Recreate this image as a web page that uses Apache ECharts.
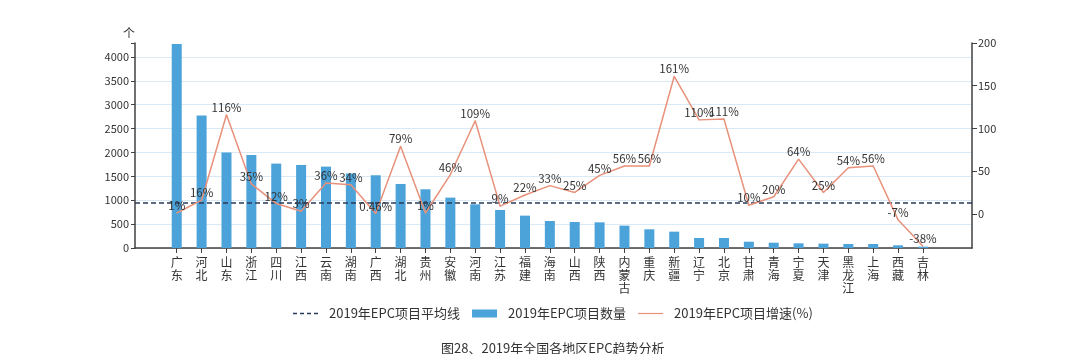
<!DOCTYPE html>
<html>
<head>
<meta charset="utf-8">
<script src="https://cdn.jsdelivr.net/npm/echarts@6/dist/echarts.min.js"></script>
<style>
html,body{margin:0;padding:0;background:#fff;}
#chart{width:1080px;height:354px;}
</style>
</head>
<body>
<div id="chart"></div>
<script>
const categories = ['广东','河北','山东','浙江','四川','江西','云南','湖南','广西','湖北','贵州','安徽','河南','江苏','福建','海南','山西','陕西','内蒙古','重庆','新疆','辽宁','北京','甘肃','青海','宁夏','天津','黑龙江','上海','西藏','吉林'];
const projectCounts = [4270,2771,1996,1948,1766,1738,1703,1560,1522,1340,1229,1054,914,796,677,565,544,537,468,391,342,209,209,132,111,98,91,84,84,56,28];
const growthRates = [1,16,116,35,12,3,36,34,0.46,79,1,46,109,9,22,33,25,45,56,56,161,110,111,10,20,64,25,54,56,-7,-38];
const leftTicks = [0,500,1000,1500,2000,2500,3000,3500,4000];
const rightTicks = [0,50,100,150,200];
const seriesNames = ['2019年EPC项目平均线','2019年EPC项目数量','2019年EPC项目增速(%)'];
const titleText = '图28、2019年全国各地区EPC趋势分析';

const avgValue = projectCounts.reduce((a,b)=>a+b,0)/projectCounts.length;

const FONT = '"Noto Sans CJK SC", "Noto Sans", sans-serif';
const TXT = '#333';
const AVG_COLOR = '#2a3b5c', BAR_COLOR = '#4ba3d9', LINE_COLOR = '#e8917a';
const LEFT_MIN = 0, LEFT_MAX = 4290, RIGHT_MIN = -40, RIGHT_MAX = 200;

const chart = echarts.init(document.getElementById('chart'), null, {renderer:'canvas'});
chart.setOption({
  animation:false,
  textStyle:{fontFamily:FONT},
  title:{text:titleText,left:436,top:337,textStyle:{fontSize:13,fontWeight:'normal',color:TXT,fontFamily:FONT}},
  legend:{
    top:302, left:288, itemGap:12, itemWidth:25, itemHeight:8,
    textStyle:{fontSize:13,color:TXT,fontFamily:FONT,padding:[0,0,0,6]},
    data:[
      {name:seriesNames[0],icon:'path://M0 0H4V1.6H0Z M7 0H11V1.6H7Z M14 0H18V1.6H14Z M21 0H25V1.6H21Z',itemStyle:{color:AVG_COLOR,opacity:1}},
      {name:seriesNames[1],icon:'rect'},
      {name:seriesNames[2],icon:'path://M0 0H25V1.2H0Z',itemStyle:{color:LINE_COLOR,opacity:1}}
    ]
  },
  grid:[
    {left:135,right:108,top:43,bottom:106},
    {left:164.3,right:144.6,top:43,bottom:106}
  ],
  xAxis:[
    {type:'value',gridIndex:0,min:0,max:1,axisLine:{show:true,lineStyle:{color:'#404040',width:1.5}},axisTick:{show:false},axisLabel:{show:false},splitLine:{show:false}},
    {type:'category',gridIndex:1,data:categories,boundaryGap:true,
     axisLine:{show:false},
     axisTick:{show:true,alignWithLabel:true,length:5,lineStyle:{color:'#404040'}},
     axisLabel:{interval:0,fontSize:12,lineHeight:13,color:TXT,margin:8,fontFamily:FONT,formatter:v=>v.split('').join('\n')}}
  ],
  yAxis:[
    {type:'value',gridIndex:0,position:'left',min:LEFT_MIN,max:LEFT_MAX,interval:500,
     name:'个',nameLocation:'end',nameGap:4,nameTextStyle:{fontSize:12,color:TXT,align:'right',fontFamily:FONT},
     axisLine:{show:true,lineStyle:{color:'#404040',width:1.5}},
     axisTick:{show:true,length:4,lineStyle:{color:'#404040'}},
     axisLabel:{fontSize:11,color:TXT,margin:6,fontFamily:FONT,customValues:leftTicks,formatter:v=>String(v)},
     splitLine:{show:true,showMaxLine:false,lineStyle:{color:'#d9e9f5',width:1}}},
    {type:'value',gridIndex:0,position:'right',min:RIGHT_MIN,max:RIGHT_MAX,
     axisLine:{show:true,lineStyle:{color:'#404040',width:1.5}},
     axisTick:{show:true,length:5,lineStyle:{color:'#404040'},customValues:rightTicks},
     axisLabel:{fontSize:11,color:TXT,margin:6,fontFamily:FONT,customValues:rightTicks,formatter:v=>String(v)},
     splitLine:{show:false}},
    {type:'value',gridIndex:1,min:LEFT_MIN,max:LEFT_MAX,show:false,splitLine:{show:false}},
    {type:'value',gridIndex:1,min:RIGHT_MIN,max:RIGHT_MAX,show:false,splitLine:{show:false}}
  ],
  series:[
    {name:seriesNames[0],type:'line',xAxisIndex:0,yAxisIndex:0,symbol:'none',
     data:[[0,avgValue],[1,avgValue]],
     lineStyle:{type:[5,3],color:AVG_COLOR,width:1.5},itemStyle:{color:AVG_COLOR},z:5},
    {name:seriesNames[1],type:'bar',xAxisIndex:1,yAxisIndex:2,data:projectCounts,barWidth:10,
     itemStyle:{color:BAR_COLOR},z:2},
    {name:seriesNames[2],type:'line',xAxisIndex:1,yAxisIndex:3,data:growthRates,
     symbol:'circle',symbolSize:1,showSymbol:true,showAllSymbol:true,
     lineStyle:{color:LINE_COLOR,width:1.5},itemStyle:{color:LINE_COLOR},
     label:{show:true,position:'top',distance:1,fontSize:11.5,color:TXT,fontFamily:FONT,formatter:p=>p.value+'%'},
     labelLayout:{hideOverlap:false},z:6}
  ]
});
</script>
</body>
</html>
